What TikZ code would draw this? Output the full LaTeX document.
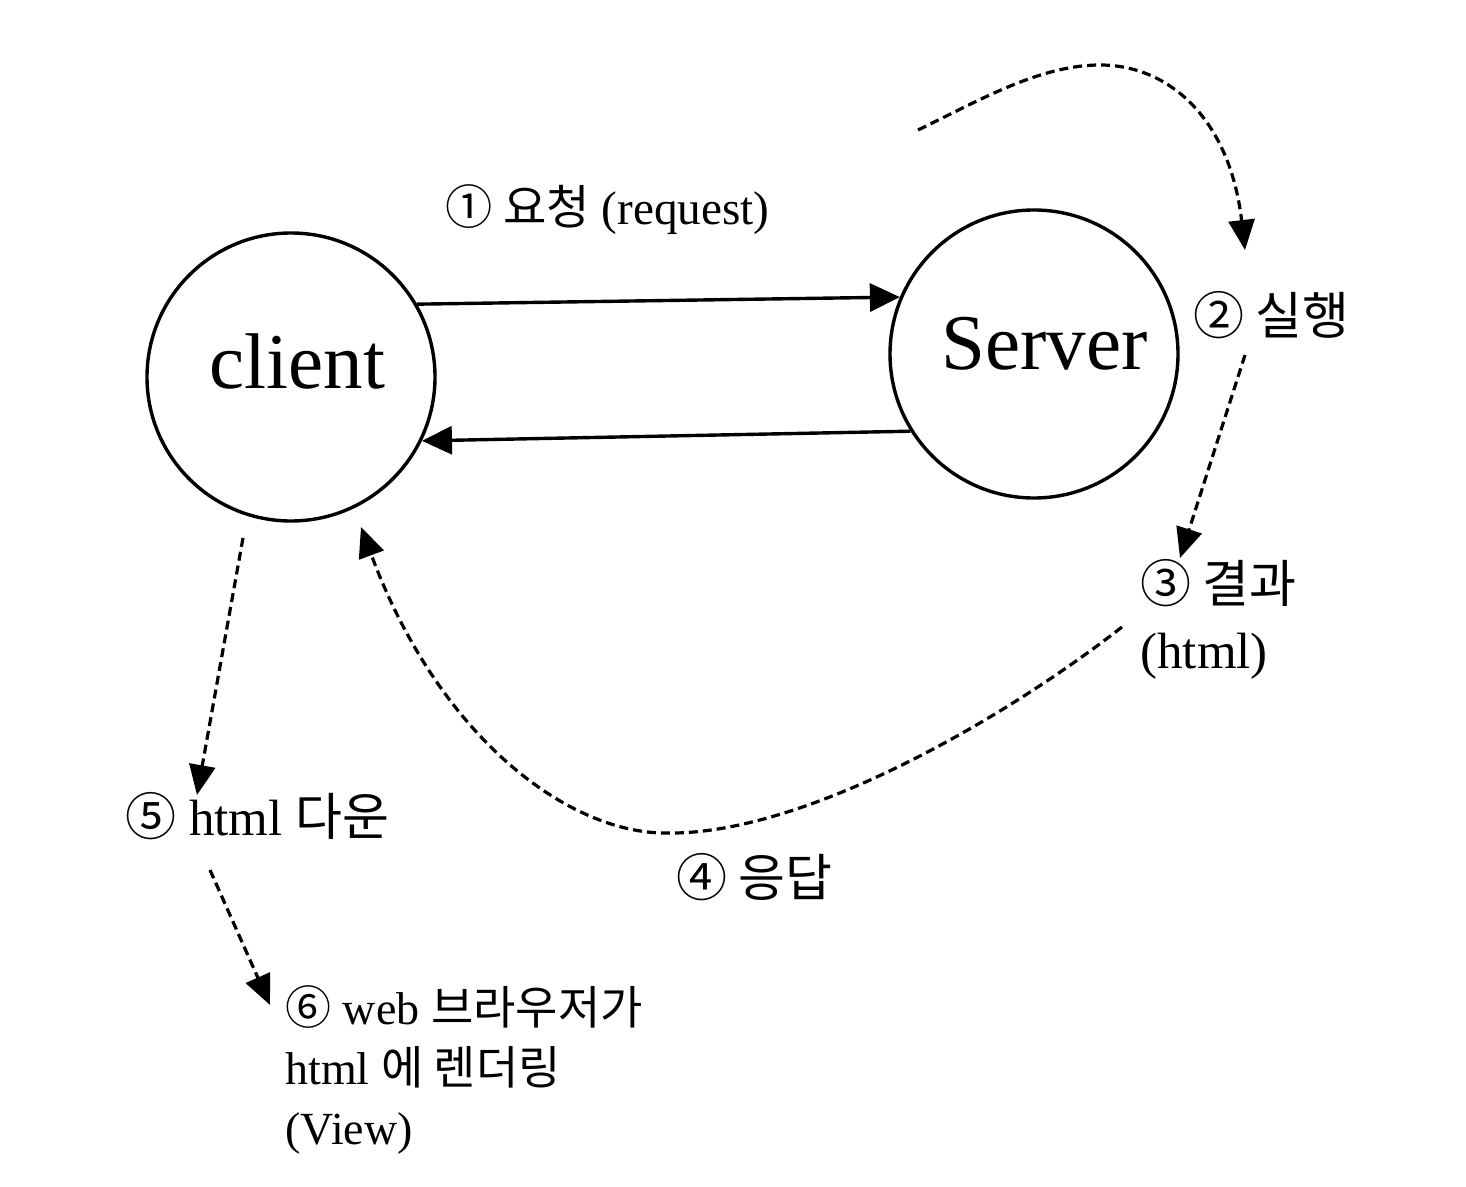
\documentclass[tikz,border=0pt]{standalone}
\usepackage{fontspec}
\setmainfont{Liberation Serif}
\newfontfamily\kr{Noto Sans CJK KR}
\usetikzlibrary{arrows.meta}
\tikzset{
  circ/.style={circle, draw, line width=1.7pt, minimum size=144pt, inner sep=0pt},
  bigtext/.style={font=\fontsize{39.5}{46}\selectfont, inner sep=0pt},
  lbl/.style={font=\fontsize{25.5}{33}\selectfont, inner sep=0pt, anchor=base west},
  solidarrow/.style={line width=1.7pt, -{Triangle[length=15pt,width=14pt]}},
  dasharrow/.style={line width=1.6pt, dash pattern=on 4.5pt off 2.5pt, -{Triangle[length=15pt,width=13pt]}},
}
\begin{document}
\begin{tikzpicture}[x=0.5pt,y=-0.5pt]
  \useasboundingbox (0,0) rectangle (1466,1187);
  \fill[white] (0,0) rectangle (1466,1187);

  % circles
  \node[circ] (client) at (291,377) {};
  \node[bigtext, anchor=base] (clienttext) at (297.5,388) {client};
  \node[circ] (server) at (1034,354) {};
  \node[bigtext, anchor=base] (servertext) at (1044.5,370) {Server};

  % labels
  \node[lbl, font=\fontsize{23.6}{30}\selectfont] (l1) at (445,225) {{\kr ① 요청} (request)};
  \node[lbl] (l2) at (1193,335) {\kr ② 실행};
  \node[lbl] (l3) at (1140,602) {\vtop{\hbox{\kr ③ 결과}\hbox{(html)}}};
  \node[lbl] (l4) at (676,896) {\kr ④ 응답};
  \node[lbl] (l5) at (125,835) {{\kr ⑤} html {\kr 다운}};
  \node[lbl, font=\fontsize{23}{30}\selectfont] (l6) at (285,1024) {\vtop{\hbox{{\kr ⑥} web {\kr 브라우저가}}\hbox{html {\kr 에 렌더링}}\hbox{(View)}}};

  % solid arrows
  \draw[solidarrow] (client.30.8) -- (server.157);
  \draw[solidarrow] (server.212) -- (client.334);

  % dashed arrows
  \coordinate (a2s) at (918,130);
  \coordinate (a2e) at (1245,250);
  \draw[dasharrow] (a2s) .. controls (980,100) and (1040,65) .. (1100,65)
                         .. controls (1170,65) and (1230,120) .. (a2e);

  \coordinate (a3s) at (1245,355);
  \coordinate (a3e) at (1180,558);
  \draw[dasharrow] (a3s) -- (a3e);

  \coordinate (a4s) at (1122,627);
  \coordinate (a4e) at (361,527);
  \draw[dasharrow] (a4s) .. controls (1000,722) and (800,836) .. (665,833)
                         .. controls (570,833) and (440,740) .. (a4e);

  \coordinate (a5s) at (243,538);
  \coordinate (a5e) at (197,795);
  \draw[dasharrow] (a5s) -- (a5e);

  \coordinate (a6s) at (210,870);
  \coordinate (a6e) at (270,1005);
  \draw[dasharrow] (a6s) -- (a6e);
\end{tikzpicture}
\end{document}
